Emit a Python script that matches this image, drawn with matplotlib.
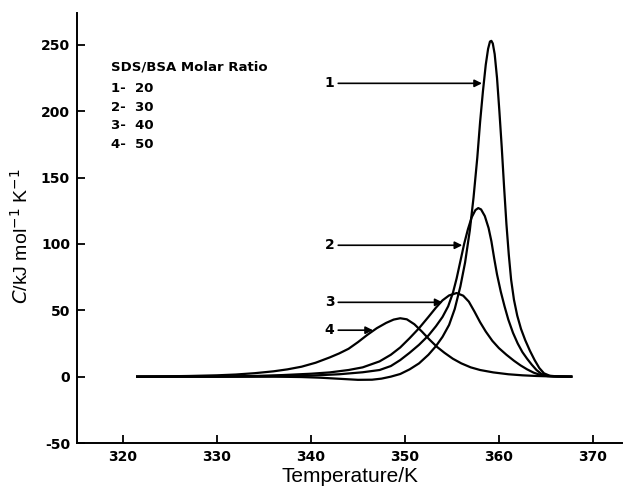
'''
Heat capacity curves of BSA for several SDS/BSA molar ratios
'''
import matplotlib
matplotlib.use('Agg')
import matplotlib.pyplot as plt

t1 = [321.5, 330, 336, 339, 341, 343, 345, 346.5, 347.5, 348.5, 349.5, 350.5,
      351.5, 352.5, 353.3, 354, 354.7, 355.3, 355.9, 356.4, 356.9, 357.3, 357.7,
      358.0, 358.3, 358.6, 358.85, 359.05, 359.2, 359.35, 359.55, 359.8, 360.05,
      360.3, 360.55, 360.8, 361.05, 361.3, 361.6, 361.95, 362.35, 362.8, 363.3,
      363.8, 364.3, 364.8, 365.4, 366.2, 367.7]
c1 = [0, 0, 0, -0.3, -0.8, -1.6, -2.4, -2.3, -1.5, 0, 2, 5.5,
      10, 16.5, 23, 30, 39, 51, 68, 86, 110, 135, 165,
      192, 215, 235, 247, 252.5, 253, 251, 243, 225, 200,
      173, 143, 115, 92, 73, 58, 46, 36, 27.5, 19.5,
      12.5, 6.5, 2.5, 0.7, 0.2, 0]

t2 = [321.5, 330, 335, 340, 343, 345.5, 347.3, 348.5, 349.5, 350.5, 351.5, 352.5,
      353.3, 354, 354.6, 355.1, 355.5, 355.9, 356.3, 356.7, 357.1, 357.5, 357.8,
      358.1, 358.5, 358.9, 359.2, 359.5, 359.8, 360.2, 360.6, 361.0, 361.5, 362,
      362.5, 363, 363.5, 364, 364.5, 365, 365.8, 367.7]
c2 = [0, 0, 0.2, 0.8, 1.8, 3.3, 5, 8, 12.5, 18, 24, 31,
      38, 45, 53, 63, 74, 87, 100, 111, 120, 125.5, 127,
      126, 121, 112, 102, 89, 77, 64, 53, 43, 33, 25,
      18.5, 13.5, 9, 5, 2.2, 0.8, 0.2, 0]

t3 = [321.5, 330, 334, 337, 340, 342, 344, 345.5, 347.3, 348.5, 349.5, 350.5,
      351.5, 352.5, 353.3, 354, 354.7, 355.5, 356.2, 356.8, 357.4, 358, 358.6,
      359.3, 360, 360.8, 361.6, 362.3, 363, 363.7, 364.4, 365.2, 366.5, 367.7]
c3 = [0, 0.1, 0.5, 1.2, 2.2, 3.2, 5, 7, 11.5, 16.5, 22, 29,
      36.5, 45, 52, 57.5, 61.2, 63, 61, 56.5, 49, 41, 34,
      27, 21.5, 16.5, 12, 8.5, 5.5, 3, 1.3, 0.4, 0.1, 0]

t4 = [321.5, 324, 327, 330, 332, 334, 336, 337.5, 339, 340.5, 342, 343, 344,
      345, 346, 347, 348, 348.8, 349.5, 350.2, 351, 351.8, 352.6, 353.4, 354.2,
      355.1, 356, 357, 358, 359.4, 361, 362.5, 364, 365.5, 367.7]
c4 = [0, 0.2, 0.5, 1, 1.6, 2.6, 4, 5.5, 7.5, 10.5, 14.5, 17.5, 21,
      26, 31.5, 36.5, 40.5, 43, 44, 43.2, 39.5, 34, 28, 22.5, 18,
      13.5, 10, 7, 5, 3.2, 1.8, 1, 0.5, 0.2, 0]

curve_labels = ['1', '2', '3', '4']
arrow_y = [221, 99, 56, 35]
arrow_tip = [358.2, 356.1, 354.0, 346.6]
legend_lines = ['SDS/BSA Molar Ratio', '1-  20', '2-  30', '3-  40', '4-  50']
legend_y = [233, 217, 202.5, 189, 175]

xticks = [320, 330, 340, 350, 360, 370]
yticks = [-50, 0, 50, 100, 150, 200, 250]


def main():
    plt.rcParams['font.family'] = ['Liberation Sans', 'DejaVu Sans']
    plt.rcParams['axes.unicode_minus'] = False
    bold = dict(family='DejaVu Sans', fontweight='bold')

    fig = plt.figure(figsize=(6.23, 4.90), dpi=100)
    ax = fig.add_axes([0.1236, 0.0959, 0.8748, 0.8776])

    for t, c in [(t1, c1), (t2, c2), (t3, c3), (t4, c4)]:
        ax.plot(t, c, color='black', lw=1.6, solid_joinstyle='round')

    for lab, y, tip in zip(curve_labels, arrow_y, arrow_tip):
        ax.annotate('', xy=(tip, y), xytext=(342.9, y),
                    arrowprops=dict(arrowstyle='-|>', color='black', lw=1.2,
                                    mutation_scale=11, shrinkA=0, shrinkB=0))
        ax.text(342.5, y, lab, ha='right', va='center', fontsize=10, **bold)

    for line, y in zip(legend_lines, legend_y):
        ax.text(318.7, y, line, ha='left', va='center', fontsize=9.5, **bold)

    ax.set_xlim(315.1, 373.1)
    ax.set_ylim(-50, 274)
    ax.set_xticks(xticks)
    ax.set_yticks(yticks)
    ax.spines['top'].set_visible(False)
    ax.spines['right'].set_visible(False)
    for s in ['left', 'bottom']:
        ax.spines[s].set_linewidth(1.4)
    ax.tick_params(direction='in', length=6, width=1.3, labelsize=10, pad=5)
    for lbl in ax.get_xticklabels() + ax.get_yticklabels():
        lbl.set_fontweight('bold')
        lbl.set_family('DejaVu Sans')

    ax.set_xlabel('Temperature/K', fontsize=15, labelpad=2)
    ax.set_ylabel(r'$\mathit{C}$/kJ mol$^{-1}$ K$^{-1}$', fontsize=14)
    ax.yaxis.set_label_coords(-0.083, 0.48)

    plt.savefig('out.png', dpi=100)


if __name__ == "__main__":
    main()
